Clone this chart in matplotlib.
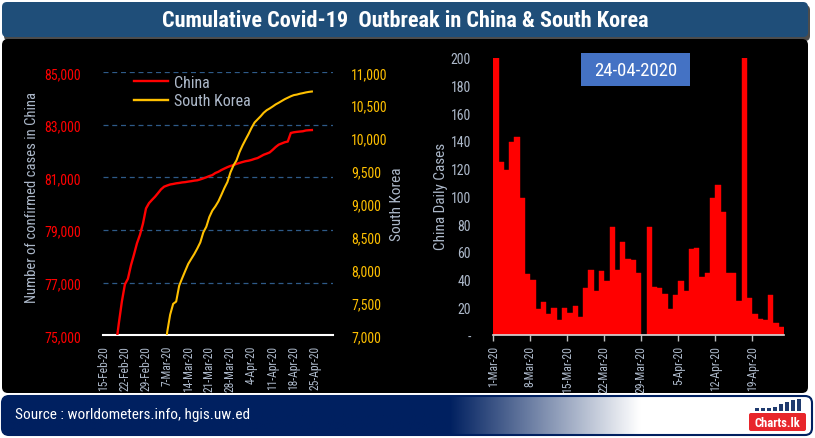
import matplotlib
matplotlib.use('Agg')
import matplotlib.pyplot as plt
import numpy as np
import pandas as pd
from matplotlib import font_manager as fm
from matplotlib.patches import FancyBboxPatch, Rectangle
from matplotlib.lines import Line2D

# ---------------- data ----------------
title = 'Cumulative Covid-19  Outbreak in China & South Korea'
source_text = 'Source : worldometers.info, hgis.uw.ed'
report_date = '24-04-2020'

china_start = '2020-02-18'
china_cum = [74185, 74576, 75465, 76288, 76936, 77150, 77658, 78064, 78497, 78824,
             79251, 79824, 80026, 80151, 80270, 80409, 80552, 80651, 80695, 80735,
             80754, 80778, 80793, 80813, 80824, 80844, 80860, 80881, 80894, 80928,
             80967, 81008, 81054, 81093, 81171, 81218, 81285, 81340, 81394, 81439,
             81470, 81518, 81554, 81589, 81620, 81639, 81669, 81708, 81740, 81802,
             81865, 81907, 81953, 82052, 82160, 82249, 82295, 82341, 82367, 82692,
             82719, 82735, 82747, 82758, 82788, 82798, 82804]

korea_start = '2020-03-06'
korea_cum = [6593, 7041, 7313, 7478, 7513, 7755, 7869, 7979, 8086, 8162,
             8236, 8320, 8413, 8565, 8652, 8799, 8897, 8961, 9037, 9137,
             9241, 9332, 9478, 9583, 9661, 9786, 9887, 9976, 10062, 10156,
             10237, 10284, 10331, 10384, 10423, 10450, 10480, 10512, 10537, 10564,
             10591, 10613, 10635, 10653, 10661, 10674, 10683, 10694, 10702, 10708]

daily_start = '2020-03-01'
china_daily = [200, 125, 119, 139, 143, 99, 44, 40, 19, 24,
               15, 20, 11, 20, 16, 21, 13, 34, 47, 32,
               46, 39, 78, 47, 67, 55, 54, 45, 0, 78,
               35, 34, 30, 19, 29, 39, 32, 62, 63, 42,
               45, 99, 108, 89, 45, 45, 25, 200, 27, 15,
               12, 11, 29, 9, 6]

left_ticks = [75000, 77000, 79000, 81000, 83000, 85000]
right_ticks = [7000, 7500, 8000, 8500, 9000, 9500, 10000, 10500, 11000]
daily_ticks = [0, 20, 40, 60, 80, 100, 120, 140, 160, 180, 200]
line_axis_start = '2020-02-15'
line_tick_dates = pd.date_range('2020-02-15', '2020-04-25', freq='7D')

# ---------------- fonts ----------------
names = {f.name for f in fm.fontManager.ttflist}
FONT = next((n for n in ['Roboto Condensed', 'Liberation Sans Narrow',
                         'DejaVu Sans Condensed', 'Open Sans Condensed'] if n in names),
            'DejaVu Sans')
STRETCH = 'normal'
if FONT == 'DejaVu Sans' and any(f.name == 'DejaVu Sans' and str(f.stretch) == 'condensed'
                                 for f in fm.fontManager.ttflist):
    STRETCH = 'condensed'
plt.rcParams['font.family'] = [FONT, 'DejaVu Sans']
plt.rcParams['font.stretch'] = STRETCH

W, H = 815, 439
LBL = '#adb9ca'
fig = plt.figure(figsize=(W / 100, H / 100), dpi=100)
fig.patch.set_facecolor('white')

def fx(x):
    return x / W

def fy(y):
    return 1 - y / H

# ---------------- background ----------------
bg = fig.add_axes([0, 0, 1, 1])
bg.set_xlim(0, W)
bg.set_ylim(H, 0)
bg.axis('off')

bg.add_patch(FancyBboxPatch((2, 40), 806, 354, boxstyle='round,pad=0,rounding_size=6',
                            fc='black', ec='none', zorder=1))
bg.add_patch(FancyBboxPatch((4, 6), 806, 36, boxstyle='round,pad=0,rounding_size=5',
                            fc='black', ec='none', alpha=0.7, zorder=2))
bg.add_patch(FancyBboxPatch((2, 3), 806, 35, boxstyle='round,pad=0,rounding_size=5',
                            fc='#1f4e79', ec='none', zorder=3))
bg.text(405, 21, title, color='white', fontsize=16, fontweight='bold',
        ha='center', va='center', zorder=4)

# banner with gradient
navy = np.array([0, 32, 96]) / 255.0
white = np.array([1.0, 1.0, 1.0])
xs = np.linspace(2, 812, 500)
t = np.clip((xs - 450) / (640 - 450), 0, 1)[:, None]
grad = (navy * (1 - t) + white * t)[None, :, :]
banner = FancyBboxPatch((2, 397), 810, 39, boxstyle='round,pad=0,rounding_size=7',
                        fc='none', ec='#002060', lw=1.5, zorder=3)
im = bg.imshow(grad, extent=(2, 812, 436, 397), aspect='auto', zorder=2)
bg.add_patch(banner)
im.set_clip_path(banner)
bg.set_xlim(0, W)
bg.set_ylim(H, 0)
bg.text(15, 415, source_text, color='white', fontsize=11, ha='left', va='center', zorder=4)

# logo
bg.add_patch(FancyBboxPatch((749, 414), 57, 18, boxstyle='round,pad=0,rounding_size=2',
                            fc='#e8262b', ec='none', zorder=4))
bg.text(777, 423.5, 'Charts.lk', color='white', fontsize=9, fontweight='bold',
        ha='center', va='center', zorder=5)
for i, hgt in enumerate([3, 3, 3, 4, 7, 9, 11, 12]):
    bg.add_patch(Rectangle((755 + i * 6, 412 - hgt), 4, hgt, fc='#1f3a6e', ec='none', zorder=4))

# date box
bg.add_patch(Rectangle((581, 54), 109, 33, fc='#4472c4', ec='none', zorder=4))
bg.text(635.5, 71, report_date, color='white', fontsize=13.5, ha='center', va='center', zorder=5)

# ---------------- left chart: cumulative lines ----------------
base = pd.Timestamp(line_axis_start)
cx = (pd.date_range(china_start, periods=len(china_cum)) - base).days.values
kx = (pd.date_range(korea_start, periods=len(korea_cum)) - base).days.values

axL = fig.add_axes([fx(103), fy(336.3), 230 / W, 263 / H])
axL.set_facecolor('none')
axL.plot(cx, china_cum, color='#ff0000', lw=1.7, zorder=3)
axL.set_ylim(left_ticks[0], left_ticks[-1])
axL.set_xlim(-0.26, 76.0)
axL.set_yticks(left_ticks)
axL.set_yticklabels([f'{v:,}' for v in left_ticks])
axL.tick_params(axis='y', length=0, pad=16, labelcolor='#ff0000', labelsize=10)
tx = (line_tick_dates - base).days.values
axL.set_xticks(tx)
axL.set_xticklabels([f'{d.day}-{d.strftime("%b")}-{d.strftime("%y")}' for d in line_tick_dates],
                    rotation=90)
axL.tick_params(axis='x', length=0, pad=7, labelcolor=LBL, labelsize=8.3)
axL.grid(axis='y', color='#2e5a88', ls=(0, (4, 3)), lw=0.9)
axL.set_axisbelow(True)
for s in ['left', 'right', 'top']:
    axL.spines[s].set_visible(False)
axL.spines['bottom'].set_color('white')
axL.spines['bottom'].set_linewidth(1.5)

axK = axL.twinx()
axK.plot(kx, korea_cum, color='#ffc000', lw=1.5, zorder=3)
axK.set_ylim(right_ticks[0], right_ticks[-1])
axK.set_yticks(right_ticks)
axK.set_yticklabels([f'{v:,}' for v in right_ticks])
axK.tick_params(axis='y', length=0, pad=13, labelcolor='#ffc000', labelsize=10)
for s in axK.spines.values():
    s.set_visible(False)

handles = [Line2D([], [], color='#ff0000', lw=1.7), Line2D([], [], color='#ffc000', lw=1.7)]
leg = fig.legend(handles, ['China', 'South Korea'], loc='upper left',
                 bbox_to_anchor=(fx(134), fy(76)), frameon=False, fontsize=11.5,
                 labelcolor=LBL, handlelength=2.1, handletextpad=0.4,
                 labelspacing=0.2, borderpad=0, borderaxespad=0)

fig.text(fx(32), fy(197.5), 'Number of confirmed cases in China', rotation=90,
         color=LBL, fontsize=10.5, ha='center', va='center')
fig.text(fx(397), fy(204.5), 'South Korea', rotation=90,
         color=LBL, fontsize=11, ha='center', va='center')

# ---------------- right chart: daily bars ----------------
dd = pd.date_range(daily_start, periods=len(china_daily))
bx = np.arange(len(china_daily))
axB = fig.add_axes([fx(493.3), fy(336.3), (784 - 493.3) / W, (336.3 - 58.5) / H])
axB.set_facecolor('none')
axB.bar(bx, china_daily, width=1.0, align='edge', color='#ff0000',
        edgecolor='#ff0000', lw=0.3)
axB.set_xlim(0, len(china_daily))
axB.set_ylim(daily_ticks[0], daily_ticks[-1])
axB.set_yticks(daily_ticks)
axB.set_yticklabels(['-' if v == 0 else str(v) for v in daily_ticks])
axB.tick_params(axis='y', length=0, pad=16, labelcolor=LBL, labelsize=10)
xt = bx[::7]
axB.set_xticks(xt)
axB.set_xticklabels([f'{dd[i].day}-{dd[i].strftime("%b")}-{dd[i].strftime("%y")}' for i in xt],
                    rotation=90)
axB.tick_params(axis='x', length=4, width=1, color='#bfbfbf', pad=3,
                labelcolor=LBL, labelsize=8.5)
for s in ['left', 'right', 'top']:
    axB.spines[s].set_visible(False)
axB.spines['bottom'].set_color('#d9d9d9')
axB.spines['bottom'].set_linewidth(1.2)

fig.text(fx(441.5), fy(196.5), 'China Daily Cases', rotation=90,
         color=LBL, fontsize=11, ha='center', va='center')

fig.savefig('out.png', dpi=100, facecolor='white')
